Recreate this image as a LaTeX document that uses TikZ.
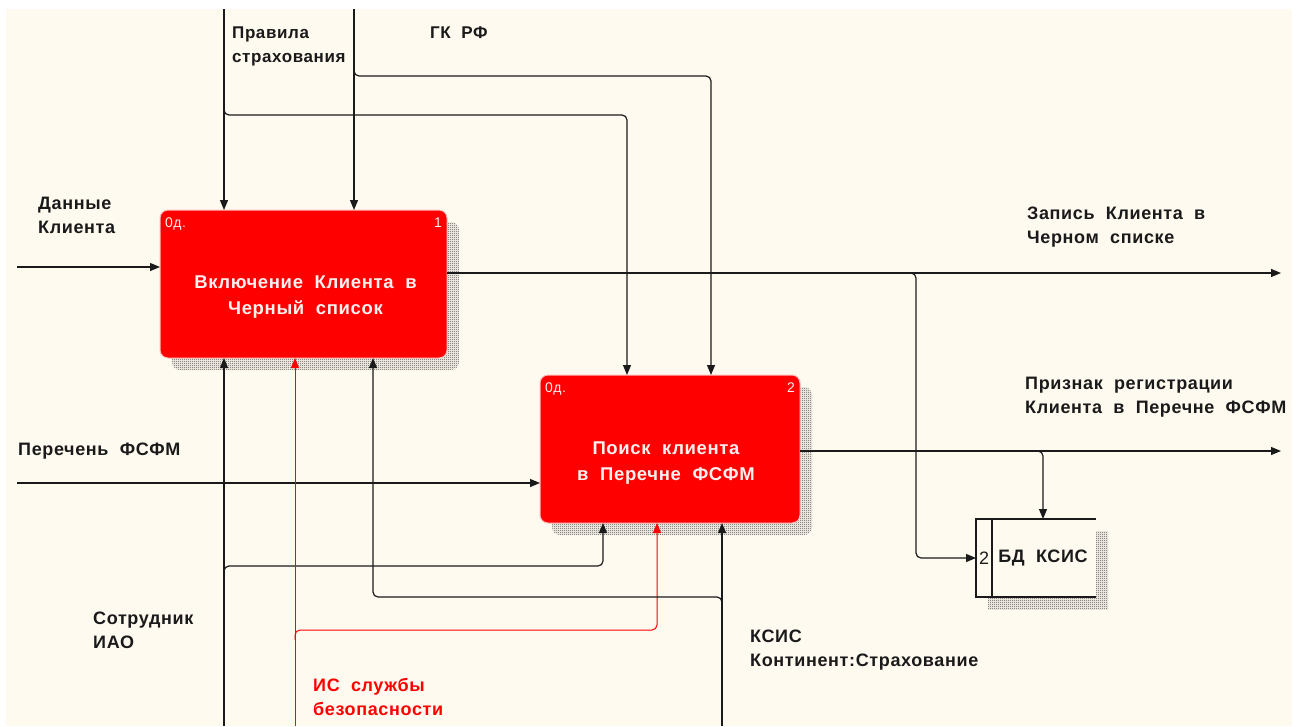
\documentclass[tikz,border=0pt]{standalone}
\usepackage{fontspec}
\setmainfont{Liberation Sans}[WordSpace=2,LetterSpace=3.5]
\usetikzlibrary{arrows.meta,positioning,calc,patterns,shadows}
\definecolor{paper}{HTML}{FFFAF0}
\definecolor{funcred}{HTML}{FF0000}
\definecolor{ink}{HTML}{1A1A1A}
\pgfdeclarepatternformonly{checker}{\pgfqpoint{0pt}{0pt}}{\pgfqpoint{2pt}{2pt}}{\pgfqpoint{2pt}{2pt}}{%
  \pgfpathrectangle{\pgfqpoint{0pt}{0pt}}{\pgfqpoint{1pt}{1pt}}%
  \pgfpathrectangle{\pgfqpoint{1pt}{1pt}}{\pgfqpoint{1pt}{1pt}}%
  \pgfusepath{fill}}

\begin{document}
\begin{tikzpicture}[x=1pt,y=-1pt,
  font=\fontsize{18}{24}\selectfont\bfseries,
  hatch/.style={drop shadow={shadow xshift=12pt,shadow yshift=-12pt,opacity=1,
    fill=paper,pattern=checker,pattern color=black!70}},
  func/.style={hatch,draw=white!75!funcred,line width=1pt,fill=funcred,
    rounded corners=8pt,outer sep=0pt,inner sep=0pt},
  functext/.style={text=white!94!red,align=center,inner sep=0pt,
    font=\fontsize{18.5}{26}\selectfont\bfseries},
  tag/.style={text=white!94!red,inner sep=0pt,font=\fontsize{14}{14}\selectfont},
  lbl/.style={anchor=north west,align=left,inner sep=0pt,text=ink},
  arr/.style={draw=ink,line width=1.2pt,-{Triangle[length=10pt,width=8pt]},rounded corners=5pt},
  redarr/.style={arr,draw=funcred,line width=1pt}]

% background
\useasboundingbox (0,0) rectangle (1301,726);
\fill[white] (0,0) rectangle (1301,726);
\fill[paper] (6,9) rectangle (1292,726);

% activities
\node[func,minimum width=287pt,minimum height=148pt] (incl) at (303.5,284) {};
\node[functext] (incltxt) at ($(incl)+(2,13)$) {Включение Клиента в\\Черный список};
\node[tag,anchor=north west] (incl0) at ($(incl.north west)+(5,8)$) {0д.};
\node[tag,anchor=north east] (incl1) at ($(incl.north east)+(-5,8)$) {1};

\node[func,minimum width=260pt,minimum height=148pt] (search) at (670,449) {};
\node[functext] (searchtxt) at ($(search)+(-4,14)$) {Поиск клиента\\ в Перечне ФСФМ};
\node[tag,anchor=north west] (search0) at ($(search.north west)+(5,8)$) {0д.};
\node[tag,anchor=north east] (search2) at ($(search.north east)+(-5,8)$) {2};

% data store
\node[hatch,fill=paper,minimum width=120pt,minimum height=78pt,inner sep=0pt,outer sep=0pt] (bd) at (1036,558) {};
\draw[ink,line width=1.5pt] (bd.north east) -- (bd.north west) -- (bd.south west) -- (bd.south east);
\draw[ink,line width=1.5pt] ($(bd.north west)+(16,0)$) -- ($(bd.south west)+(16,0)$);
\node[inner sep=0pt,text=ink,font=\fontsize{18}{18}\selectfont] (bdnum) at ($(bd.west)+(8,0)$) {2};
\node[inner sep=0pt,text=ink] (bdname) at ($(bd)+(7,0)$) {БД КСИС};

% labels
\node[lbl,font=\fontsize{17}{24}\selectfont\bfseries] (rules) at (232,27) {Правила\\страхования};
\node[lbl,font=\fontsize{17}{24}\selectfont\bfseries] (gk) at (430,27) {ГК РФ};
\node[lbl] (client) at (38,197) {Данные\\Клиента};
\node[lbl] (fsfm) at (18,443) {Перечень ФСФМ};
\node[lbl] (rec) at (1027,207) {Запись Клиента в\\Черном списке};
\node[lbl] (flag) at (1025,377) {Признак регистрации\\Клиента в Перечне ФСФМ};
\node[lbl] (staff) at (93,612) {Сотрудник\\ИАО};
\node[lbl,text=funcred] (secis) at (313,678) {ИС службы\\безопасности};
\node[lbl] (ksis) at (750,630) {КСИС\\Континент:Страхование};

% controls
\coordinate (rulesTop) at (224,9);
\coordinate (gkTop) at (354,9);
\draw[arr] (rulesTop) -- (rulesTop |- incl.north);
\draw[arr] (gkTop) -- (gkTop |- incl.north);
\coordinate (rulesFork) at (224,105);
\coordinate (rulesBend) at (224,115);
\coordinate (rulesDrop) at (627,115);
\draw[arr] (rulesFork) -- (rulesBend) -- (rulesDrop) -- (rulesDrop |- search.north);
\coordinate (gkFork) at (354,66);
\coordinate (gkBend) at (354,76);
\coordinate (gkDrop) at (711,76);
\draw[arr] (gkFork) -- (gkBend) -- (gkDrop) -- (gkDrop |- search.north);

% inputs
\coordinate (clientIn) at (17,267);
\draw[arr] (clientIn) -- (clientIn -| incl.west);
\coordinate (fsfmIn) at (17,483);
\draw[arr] (fsfmIn) -- (fsfmIn -| search.west);

% outputs
\coordinate (recOut) at (1281,273);
\draw[arr] (recOut -| incl.east) -- (recOut);
\coordinate (recFork) at (909,273);
\coordinate (recBend) at (916,273);
\draw[arr] (recFork) -- (recBend) -- (recBend |- bd.west) -- (bd.west);
\coordinate (flagOut) at (1281,451);
\draw[arr] (flagOut -| search.east) -- (flagOut);
\coordinate (flagFork) at (1036,451);
\coordinate (flagBend) at (1043,451);
\draw[arr] (flagFork) -- (flagBend) -- (flagBend |- bd.north);

% mechanisms
\coordinate (staffBot) at (224,726);
\draw[arr] (staffBot) -- (staffBot |- incl.south);
\coordinate (staffFork) at (224,576);
\coordinate (staffBend) at (224,566);
\coordinate (staffRise) at (603,566);
\draw[arr] (staffFork) -- (staffBend) -- (staffRise) -- (staffRise |- search.south);
\coordinate (secBot) at (295,726);
\draw[redarr] (secBot) -- (secBot |- incl.south);
\coordinate (secFork) at (295,640);
\coordinate (secBend) at (295,630);
\coordinate (secRise) at (657,630);
\draw[redarr] (secFork) -- (secBend) -- (secRise) -- (secRise |- search.south);
\coordinate (ksisBot) at (722,726);
\draw[arr] (ksisBot) -- (ksisBot |- search.south);
\coordinate (ksisFork) at (722,607);
\coordinate (ksisBend) at (722,597);
\coordinate (ksisRise) at (373,597);
\draw[arr] (ksisFork) -- (ksisBend) -- (ksisRise) -- (ksisRise |- incl.south);
\end{tikzpicture}
\end{document}
